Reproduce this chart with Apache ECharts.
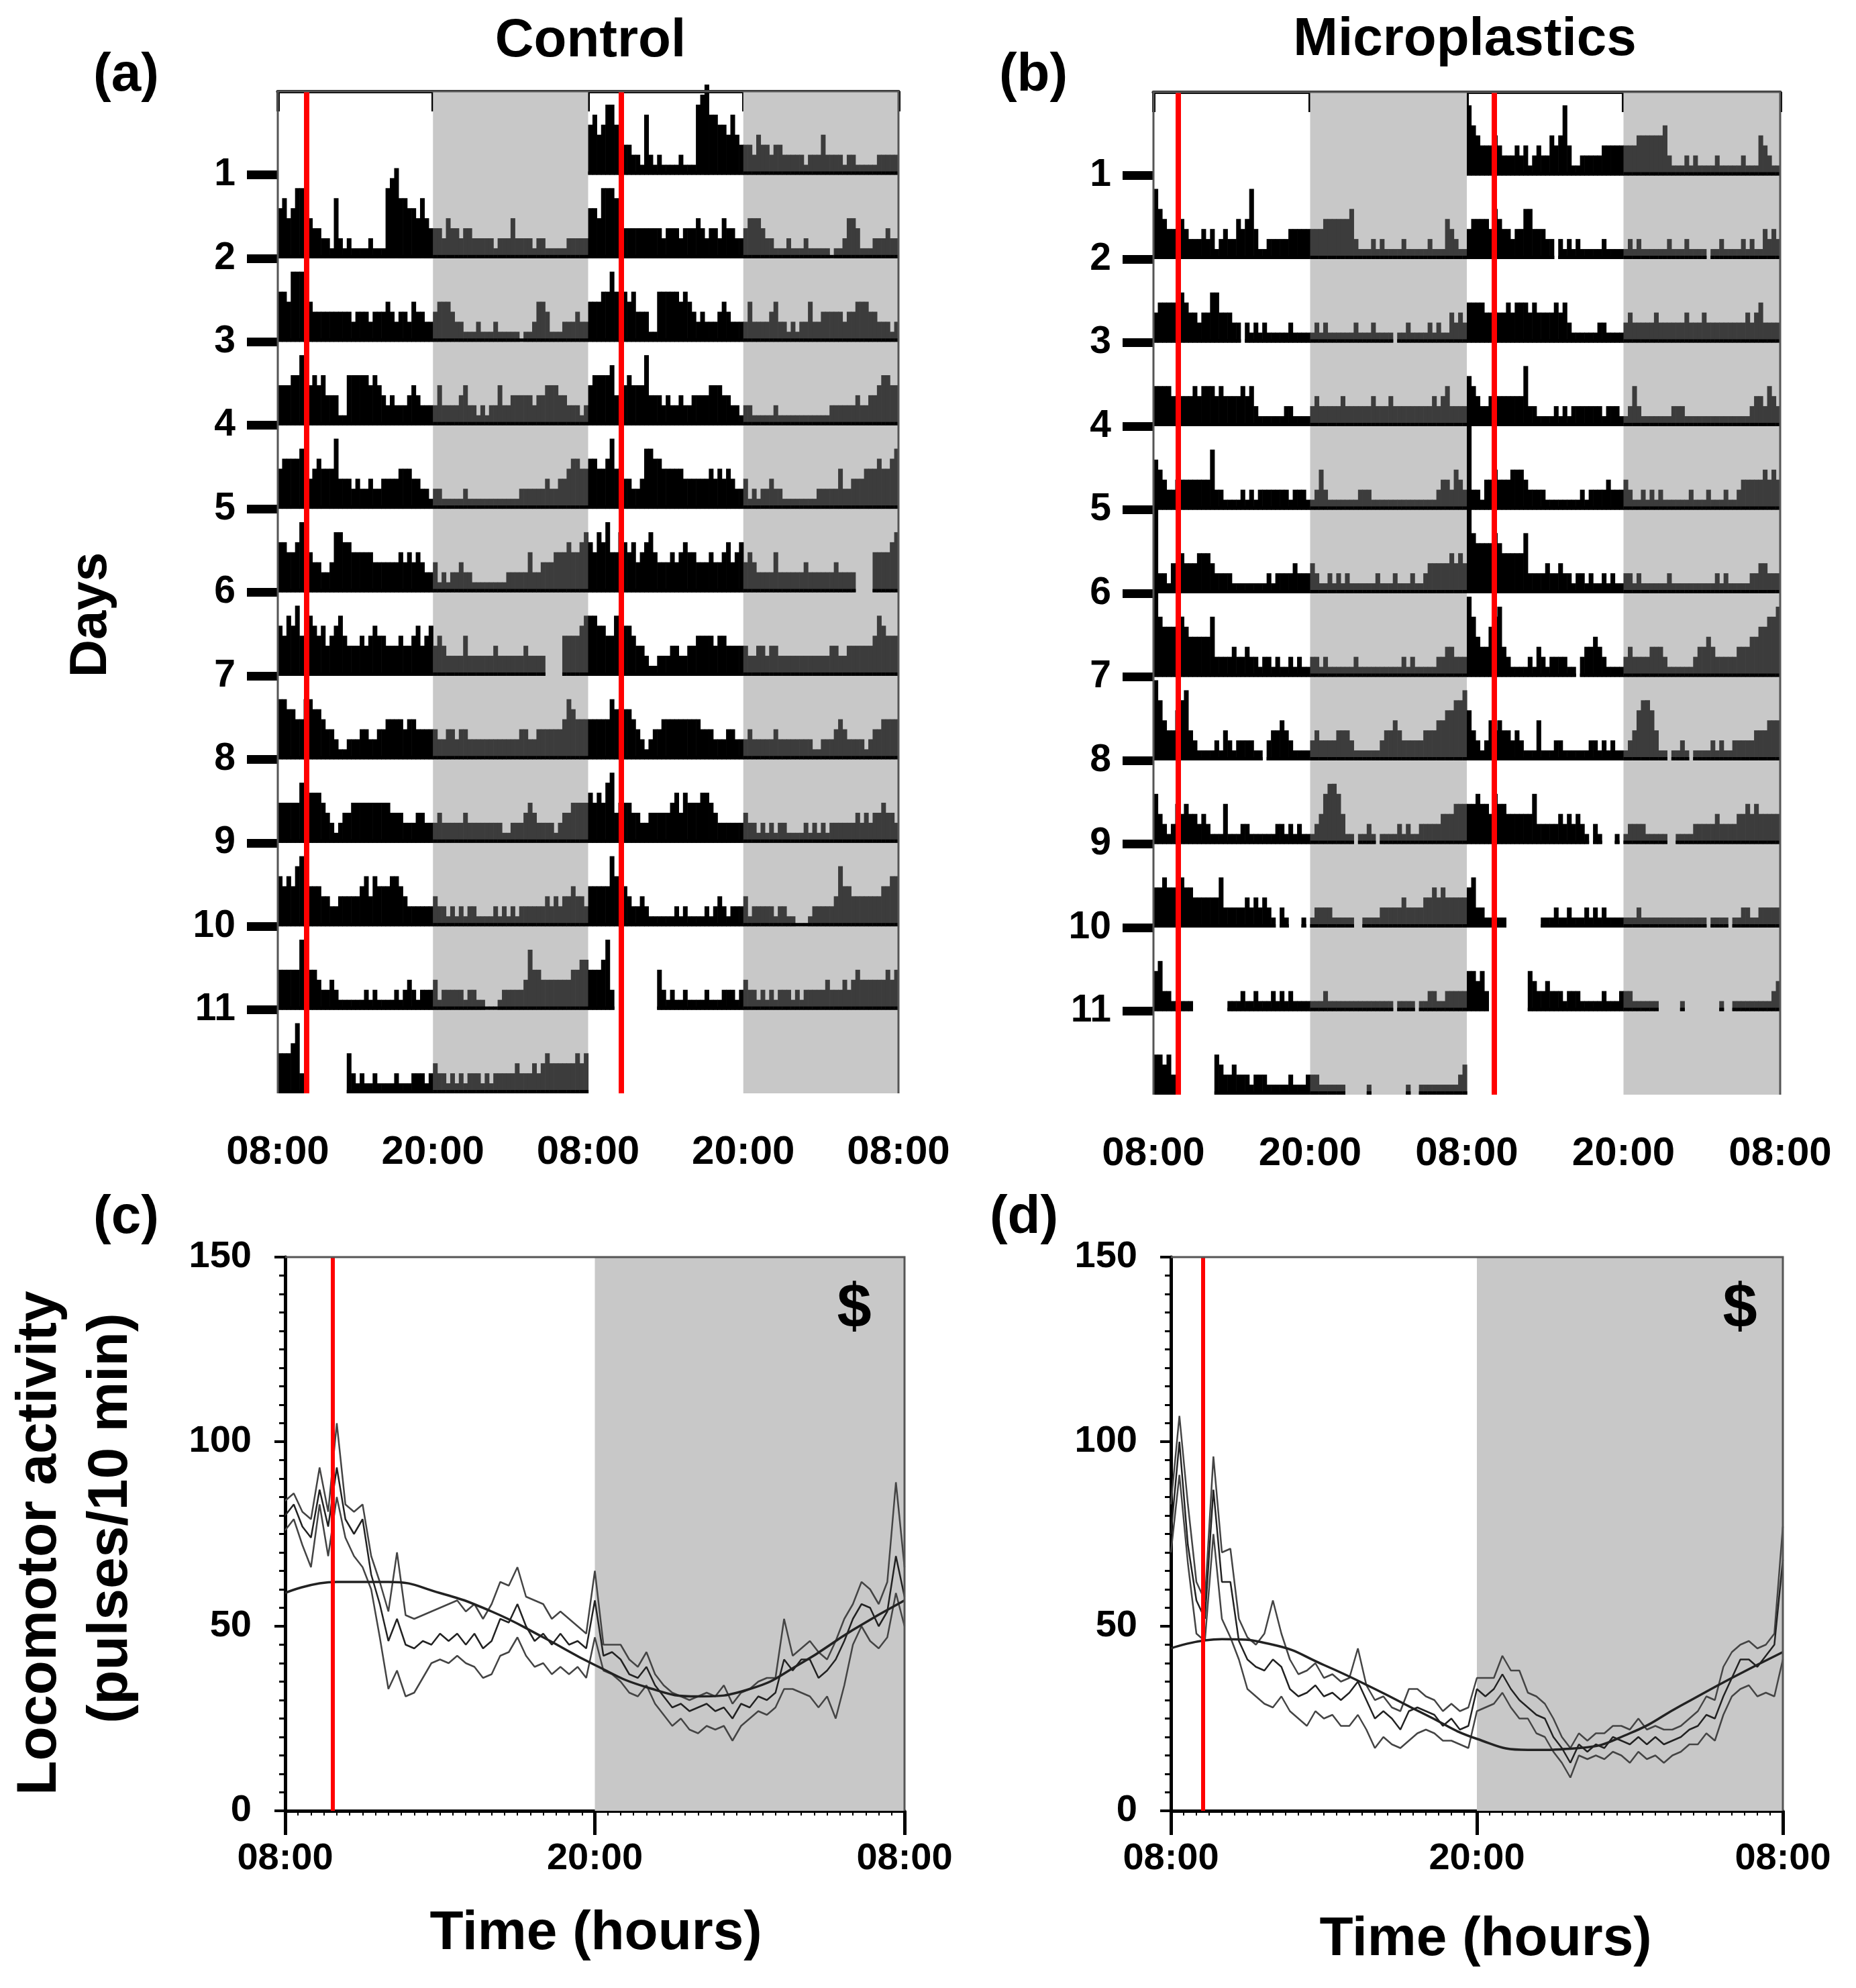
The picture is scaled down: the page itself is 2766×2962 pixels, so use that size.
<!DOCTYPE html>
<html>
<head>
<meta charset="utf-8">
<title>Actograms - Control vs Microplastics</title>
<script src="https://cdn.jsdelivr.net/npm/echarts@6/dist/echarts.min.js"></script>
<style>
  html, body { margin: 0; padding: 0; background: #fff; }
  #main { width: 2766px; height: 2962px; }
</style>
</head>
<body>
<div id="main"></div>
<script>
// ---- data ----
// actogram bins: 72 per day (20 min), digit = bar height in tenths of a row, '-' = no data
var actTickLabels = ['08:00', '20:00', '08:00', '20:00', '08:00'];
var profTickLabels = ['08:00', '20:00', '08:00'];
var dayLabels = ['1', '2', '3', '4', '5', '6', '7', '8', '9', '10', '11'];

var controlDays = [
  '564577543322 162121111211 178966554643 332433233222 221222422221 221111122222',
  '554777643333 333332333233 343233243322 344432211121 112111110112 443111222322',
  '444557545453 331155555454 323222343222 242222342212 122422333332 334443322212',
  '455556334544 473332322322 333344433221 221111121111 111111112222 223223345544',
  '554457443322 366554444433 333343434322 312122322111 111112222242 233344454456',
  '546574465453 456433343454 433343345345 343222242222 223222222322 22----444456',
  '665544665543 321122233223 344443443333 322332332222 222222223322 333333465444',
  '444446555543 212334444444 443332223322 232222232222 222211222343 222212334444',
  '545467344433 223333345354 445543222222 322121212211 112121212222 223232334332',
  '444447544322 321111112121 111212321222 312222212211 000122222364 433333334455',
  '444572------ ----42121121 111211122212 322121212221 212222232223 234333333434'
];

var microDays = [
  '754333432223 231232243473 112222233333 333444444521 112121111211 111211143211',
  '344443543323 35533322-212 121111121111 121211111121 1121111-1121 111212113232',
  '444433333434 443433334342 111111221111 232222232222 223222322222 222232342222',
  '543223333333 362211112121 222222212221 124211111112 221111111111 111112332432',
  '922133433344 432222111111 112122223222 321121212111 111211121112 112333334343',
  '965555654444 462222322322 122121121211 221211111121 111111111212 111112233222',
  '864335673211 112132122221 1-2334321111 232222333211 111123343222 223334455667',
  '532124343323 211141112211 111122121211 1235665311-1 121-11112121 122222333444',
  '445443544333 333522222323 2321-21---1- 1222211111-- 111122222322 223343433333',
  '452211111--- -----1112112 111212121111 111211111111 1111111-1111 -11221122222',
  '44342------- --4322322212 221111121112 22111111---- -1--------1- -11111111123'
];

// mean daily profiles, every 20 min from 08:00 (73 points)
var controlUpper = [84,86,81,79,93,81,105,83,81,83, 69,62,54,70,53,52,53,54,55,56, 57,54,56,52,56,62,61,66,58,57,
  56,52,54,52,50,48,65,45,45,45, 41,39,43,37,34,32,31,30,31,32, 31,34,29,32,33,35,36,36,52,42, 44,46,43,41,46,52,56,62,60,56, 62,89,66];
var controlMean = [80,83,77,74,87,77,93,79,75,79, 64,56,46,52,45,44,46,45,48,46, 48,45,48,44,46,52,51,56,50,46,
  48,45,48,45,46,44,57,42,43,41, 37,36,39,34,31,28,29,27,28,29, 27,28,25,29,28,31,30,32,41,38, 41,41,36,38,41,46,52,56,55,50, 54,69,58];
var controlLower = [76,79,72,66,83,69,85,74,69,66, 60,47,33,38,31,32,36,40,41,40, 42,40,39,36,37,42,43,47,42,39,
  40,37,39,37,39,36,47,38,37,35, 32,31,34,29,26,23,25,22,21,23, 22,23,19,23,25,27,26,28,33,33, 32,31,28,31,25,34,45,50,46,44, 47,59,50];
var controlFit = [59,62,62,59,54,47,39.5,33.5,31,33,40,49,57];   // every 2 h

var microUpper = [83,107,83,62,57,96,70,71,52,47, 45,48,57,48,41,37,38,40,36,37, 35,36,44,34,30,31,28,27,33,33,
  31,30,27,29,27,28,36,36,36,42, 38,38,32,31,29,25,20,17,21,19, 21,21,23,23,22,25,22,23,22,22, 23,25,27,31,30,39,43,45,46,44, 45,48,77];
var microMean = [75,100,72,57,52,87,62,62,46,41, 39,38,41,39,33,31,32,34,31,32, 30,32,35,30,25,27,25,22,27,28,
  27,26,23,25,22,23,33,31,33,37, 33,30,28,26,25,20,17,13,18,16, 18,17,20,19,18,20,18,20,18,19, 20,22,23,26,25,31,36,41,41,39, 42,45,68];
var microLower = [70,91,67,48,46,75,52,47,41,33, 31,29,28,31,27,25,23,27,25,26, 23,23,26,22,17,20,18,17,19,21,
  22,21,19,19,18,17,27,28,29,32, 28,25,25,21,20,16,13,9,15,14, 15,14,16,15,13,16,14,15,13,15, 16,18,18,21,19,26,31,33,34,31, 32,31,41];
var microFit = [44,46.5,45,39.5,33,26,19.5,16.5,17,21,28.5,36,43];

var lightsOnA = [2.24, 26.57];
var lightsOnB = [1.9, 26.1];
var lightsOnC = 1.84;
var lightsOnD = 1.26;

// ---- helpers ----
var BIN = 24 / 72;
var ROW_SCALE = 0.12;   // row fraction per digit
var FONT = "'Liberation Sans', Arial, sans-serif";

var grids = [
  { left: 414, top: 136, width: 925, height: 1493 },
  { left: 1719, top: 137, width: 934, height: 1494 },
  { left: 425, top: 1873, width: 923, height: 825 },
  { left: 1745, top: 1873, width: 912, height: 825 }
];

function buildBars(days) {
  var out = [];
  days.forEach(function (s, d) {
    var bins = s.replace(/ /g, '').split('');
    bins.forEach(function (c, j) {
      if (c === '-') return;
      var h = +c * ROW_SCALE;
      var t = j * BIN;
      var dark = t >= 12 ? 1 : 0;
      out.push([24 + t, d + 1, h, dark]);   // right half of row d+1
      out.push([t, d + 2, h, dark]);        // left half of row d+2
    });
  });
  return out;
}

function renderBar(params, api) {
  var x0 = api.value(0), row = api.value(1), h = api.value(2), dark = api.value(3);
  var p0 = api.coord([x0, row]);
  var p1 = api.coord([x0 + BIN, row - h]);
  var w = p1[0] - p0[0] + 0.6;
  return {
    type: 'group',
    children: [
      { type: 'rect', shape: { x: p0[0], y: p1[1], width: w, height: p0[1] - p1[1] },
        style: { fill: dark ? '#3c3c3c' : '#000' } },
      { type: 'rect', shape: { x: p0[0], y: p0[1] - 5, width: w, height: 5 },
        style: { fill: '#000' } }
    ]
  };
}

function toXY(arr, step) {
  return arr.map(function (v, i) { return [i * step, v]; });
}

function actXAxis(gi) {
  return {
    type: 'value', gridIndex: gi, min: 0, max: 48, interval: 12,
    axisLine: { lineStyle: { color: '#000', width: 5 } },
    axisTick: { length: 30, lineStyle: { color: '#000', width: 5 } },
    splitLine: { show: false },
    axisLabel: { color: '#000', fontSize: 60, fontWeight: 'bold', fontFamily: FONT, margin: 58,
      formatter: function (v) { return actTickLabels[v / 12]; } }
  };
}

function actYAxis(gi) {
  var vals = dayLabels.map(Number);
  return {
    type: 'value', gridIndex: gi, min: 0, max: 12, inverse: true, offset: 6,
    axisLine: { show: false },
    splitLine: { show: false },
    axisTick: { show: true, customValues: vals, length: 46, lineStyle: { color: '#000', width: 13 } },
    axisLabel: { customValues: vals, color: '#000', fontSize: 57, fontWeight: 'bold', fontFamily: FONT, margin: 57 }
  };
}

function profXAxis(gi) {
  return {
    type: 'value', gridIndex: gi, min: 0, max: 24, interval: 12,
    axisLine: { lineStyle: { color: '#000', width: 5 } },
    axisTick: { length: 36, lineStyle: { color: '#000', width: 5 } },
    minorTick: { show: true, splitNumber: 24, length: 7, lineStyle: { color: '#000', width: 2 } },
    splitLine: { show: false },
    minorSplitLine: { show: false },
    axisLabel: { color: '#000', fontSize: 56, fontWeight: 'bold', fontFamily: FONT, margin: 44,
      formatter: function (v) { return profTickLabels[v / 12]; } }
  };
}

function profYAxis(gi) {
  return {
    type: 'value', gridIndex: gi, min: 0, max: 150, interval: 50,
    axisLine: { show: true, lineStyle: { color: '#000', width: 5 } },
    axisTick: { show: true, length: 16, lineStyle: { color: '#000', width: 4 } },
    minorTick: { show: true, splitNumber: 10, length: 9, lineStyle: { color: '#000', width: 3 } },
    splitLine: { show: false },
    minorSplitLine: { show: false },
    axisLabel: { color: '#000', fontSize: 56, fontWeight: 'bold', fontFamily: FONT, margin: 50 }
  };
}

function phaseSeries(gi, darkRanges, redAt, redWidth) {
  return {
    type: 'line', xAxisIndex: gi, yAxisIndex: gi, data: [], silent: true,
    markArea: {
      silent: true,
      itemStyle: { color: '#c8c8c8' },
      data: darkRanges.map(function (r) { return [{ xAxis: r[0] }, { xAxis: r[1] }]; })
    },
    markLine: {
      silent: true, symbol: ['none', 'none'], label: { show: false },
      lineStyle: { color: '#ff0000', width: redWidth, type: 'solid' },
      data: redAt.map(function (x) { return { xAxis: x }; })
    }
  };
}

function profLine(gi, arr, step, color, width, smooth) {
  return {
    type: 'line', xAxisIndex: gi, yAxisIndex: gi, data: toXY(arr, step),
    showSymbol: false, symbol: 'none', smooth: !!smooth, silent: true,
    lineStyle: { color: color, width: width }
  };
}

function label(text, x, y, size, rot) {
  return {
    type: 'text', x: x, y: y, rotation: rot || 0, z: 100,
    style: { text: text, fill: '#000', fontSize: size, fontWeight: 'bold', fontFamily: FONT,
      align: 'center', verticalAlign: 'middle' }
  };
}

// thin frame drawn on top of the shading (top + sides)
function frame(g, withLeft) {
  var l = g.left, t = g.top, r = g.left + g.width, b = g.top + g.height;
  var pts = withLeft ? [[l, b], [l, t], [r, t], [r, b]] : [[l, t], [r, t], [r, b]];
  return {
    type: 'polyline', z: 100, silent: true,
    shape: { points: pts },
    style: { stroke: '#555', lineWidth: 3, fill: null }
  };
}

var chart = echarts.init(document.getElementById('main'));

var option = {
  animation: false,
  backgroundColor: '#fff',
  textStyle: { fontFamily: FONT },
  grid: grids.map(function (g) { return Object.assign({ show: false }, g); }),
  xAxis: [actXAxis(0), actXAxis(1), profXAxis(2), profXAxis(3)],
  yAxis: [actYAxis(0), actYAxis(1), profYAxis(2), profYAxis(3)],
  series: [
    phaseSeries(0, [[12, 24], [36, 48]], lightsOnA, 8),
    {
      type: 'custom', xAxisIndex: 0, yAxisIndex: 0, silent: true,
      dimensions: ['t', 'row', 'h', 'dark'], encode: { x: 0, y: 1 },
      data: buildBars(controlDays), renderItem: renderBar, z: 3
    },
    phaseSeries(1, [[12, 24], [36, 48]], lightsOnB, 8),
    {
      type: 'custom', xAxisIndex: 1, yAxisIndex: 1, silent: true,
      dimensions: ['t', 'row', 'h', 'dark'], encode: { x: 0, y: 1 },
      data: buildBars(microDays), renderItem: renderBar, z: 3
    },
    phaseSeries(2, [[12, 24]], [lightsOnC], 6),
    profLine(2, controlUpper, 1 / 3, '#444', 2.5),
    profLine(2, controlLower, 1 / 3, '#444', 2.5),
    profLine(2, controlMean, 1 / 3, '#222', 2.5),
    profLine(2, controlFit, 2, '#222', 3.5, true),
    phaseSeries(3, [[12, 24]], [lightsOnD], 6),
    profLine(3, microUpper, 1 / 3, '#444', 2.5),
    profLine(3, microLower, 1 / 3, '#444', 2.5),
    profLine(3, microMean, 1 / 3, '#222', 2.5),
    profLine(3, microFit, 2, '#222', 3.5, true)
  ],
  graphic: [
    frame(grids[0], true),
    frame(grids[1], true),
    frame(grids[2], false),
    frame(grids[3], false),
    label('(a)', 188, 113, 80),
    label('(b)', 1540, 113, 80),
    label('(c)', 188, 1815, 80),
    label('(d)', 1526, 1815, 80),
    label('Control', 880, 62, 80),
    label('Microplastics', 2183, 60, 80),
    label('Days', 136, 916, 78, Math.PI / 2),
    label('Locomotor activity', 60, 2299, 84, Math.PI / 2),
    label('(pulses/10 min)', 166, 2262, 84, Math.PI / 2),
    label('Time (hours)', 888, 2881, 82),
    label('Time (hours)', 2214, 2890, 82),
    label('$', 1273, 1952, 92),
    label('$', 2593, 1952, 92)
  ]
};

chart.setOption(option);
</script>
</body>
</html>
